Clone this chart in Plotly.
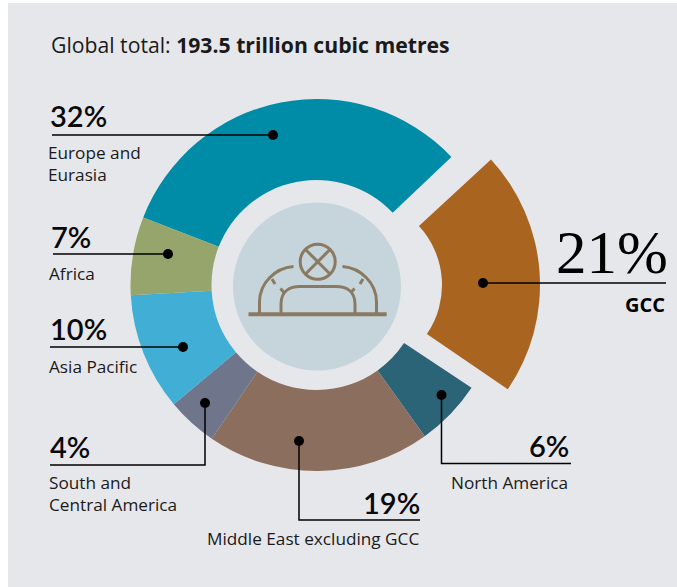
import plotly.graph_objects as go

W, H = 677, 587

# ---- data ----
categories = ["Europe and Eurasia", "GCC", "North America", "Middle East excluding GCC",
              "South and Central America", "Asia Pacific", "Africa"]
shares = [32, 21.4, 5.8, 19.4, 4.4, 10.2, 6.8]
slice_colors = ["#008BA6", "#A96520", "#2B6377", "#8C6E5F", "#6F768B", "#41AED6", "#95A56B"]
start_angle = 291.3
clear = "rgba(0,0,0,0)"

BG = "#E6E7EB"
DISK = "#C6D4DC"
ICON = "#8B7A62"
TXT = "#1A1A1A"
FONT = "Open Sans"
PCT_FONT = "Lato"
SMALL = 17.2


def px(x):
    return x / W


def py(y):
    return 1 - y / H


def pie_domain(cx, cy, r):
    return dict(x=[px(cx - r), px(cx + r)], y=[py(cy + r), py(cy - r)])


# main ring (GCC slice left empty)
main_colors = [clear if c == "GCC" else col for c, col in zip(categories, slice_colors)]
# detached, thicker GCC sector
gcc_colors = [col if c == "GCC" else clear for c, col in zip(categories, slice_colors)]

fig = go.Figure()
fig.add_trace(go.Pie(labels=categories, values=shares, sort=False, direction="clockwise",
                     rotation=start_angle, hole=105 / 186, domain=pie_domain(316.5, 285, 186),
                     marker=dict(colors=main_colors, line=dict(width=0)),
                     textinfo="none", hoverinfo="label+percent", showlegend=False))
fig.add_trace(go.Pie(labels=categories, values=shares, sort=False, direction="clockwise",
                     rotation=start_angle + 0.8, hole=87 / 185, domain=pie_domain(355, 285, 185),
                     marker=dict(colors=gcc_colors, line=dict(width=0)),
                     textinfo="none", hoverinfo="skip", showlegend=False))


def pshape(path_pts, width=3, color=ICON):
    return dict(type="path", path=path_pts, xref="paper", yref="paper", layer="above",
                line=dict(color=color, width=width))


def P(s):
    # converts "M x y L x y C ..." in pixel coordinates to paper coordinates
    out, is_x = [], True
    for tok in s.split():
        if tok.isalpha():
            out.append(tok)
            is_x = True
        else:
            v = float(tok)
            out.append(f"{px(v):.5f}" if is_x else f"{py(v):.5f}")
            is_x = not is_x
    return " ".join(out)


shapes = []
# panel background
shapes.append(dict(type="rect", xref="paper", yref="paper", layer="below",
                   x0=px(8), x1=1, y0=0, y1=py(3), fillcolor=BG, line=dict(width=0)))


def circle(cx, cy, r, fill=None, line_color=None, lw=0):
    return dict(type="circle", xref="paper", yref="paper", layer="above",
                x0=px(cx - r), x1=px(cx + r), y0=py(cy + r), y1=py(cy - r),
                fillcolor=fill if fill else clear,
                line=dict(color=line_color if line_color else clear, width=lw))


# centre disk and icon
shapes.append(circle(317, 286.5, 84, fill=DISK))
shapes.append(circle(317.7, 261.7, 17.5, line_color=ICON, lw=3))
shapes.append(pshape(P("M 248.5 314.3 L 386.7 314.3"), width=4))
for s in [
    "M 305.5 249.5 L 330 274",
    "M 330 249.5 L 305.5 274",
    "M 259.5 314 L 259.5 302 C 259.5 283 275 268 293.5 266.5",
    "M 376.5 314 L 376.5 302 C 376.5 283 361 268 342.5 266.5",
    "M 281 314 L 281 304 C 281 291 290 286.5 300 286.5 L 336 286.5 C 346 286.5 355 291 355 304 L 355 314",
    "M 272 279 L 275 284",
    "M 363 279 L 360 284",
    "M 280.5 288.5 L 284 292.5",
    "M 354.5 288.5 L 351 292.5",
]:
    shapes.append(pshape(P(s), width=3))


def leader(points, dot):
    d = "M " + " L ".join(f"{px(x):.5f} {py(y):.5f}" for x, y in points)
    shapes.append(dict(type="path", path=d, xref="paper", yref="paper", layer="above",
                       line=dict(color="#000000", width=1.5)))
    shapes.append(circle(dot[0], dot[1], 5, fill="#000000"))


leader([(52, 135), (273, 135)], (273, 135))
leader([(53, 254), (168, 254)], (168, 254))
leader([(50, 347), (183, 347)], (183, 347))
leader([(50, 465), (205, 465), (205, 403)], (205, 403))
leader([(420, 520), (299, 520), (299, 441)], (299, 441))
leader([(571, 463.5), (441.5, 463.5), (441.5, 395)], (441.5, 395))
leader([(666, 283), (483, 283)], (483, 283))

annotations = []


def label(x, y, text, size, anchor="left", family=FONT, color=TXT, weight=None):
    f = dict(family=family, size=size, color=color)
    if weight:
        f["weight"] = weight
    annotations.append(dict(x=px(x), y=py(y), xref="paper", yref="paper", text=text,
                            xanchor=anchor, yanchor="middle", showarrow=False,
                            align=anchor, borderpad=0, borderwidth=0, font=f))


def pct(x, y, text, anchor="left"):
    label(x, y, text, 29, anchor=anchor, family=PCT_FONT, color="#0A0A0A", weight=600)


label(51, 45, "Global total: <b>193.5 trillion cubic metres</b>", 21.2)
pct(50, 116, "32%")
label(48, 163, "Europe and<br>Eurasia", SMALL)
pct(51, 236, "7%")
label(49, 273, "Africa", SMALL)
pct(50, 328, "10%")
label(49, 366, "Asia Pacific", SMALL)
pct(50, 446, "4%")
label(49, 493, "South and<br>Central America", SMALL)
pct(420, 502, "19%", anchor="right")
label(419, 538, "Middle East excluding GCC", SMALL, anchor="right")
pct(569, 445, "6%", anchor="right")
label(568, 482, "North America", SMALL, anchor="right")
label(668, 252, "21%", 61, anchor="right", family="Liberation Serif", color="#000000")
label(665, 304, "<b>GCC</b>", 20, anchor="right", color="#000000")

fig.update_layout(width=W, height=H, margin=dict(l=0, r=0, t=0, b=0, pad=0),
                  paper_bgcolor="#FFFFFF", plot_bgcolor="#FFFFFF",
                  shapes=shapes, annotations=annotations, showlegend=False,
                  font=dict(family=FONT))

fig.write_html("out.html", config=dict(displayModeBar=False),
               post_script="document.body.style.margin='0';document.body.style.overflow='hidden';")
